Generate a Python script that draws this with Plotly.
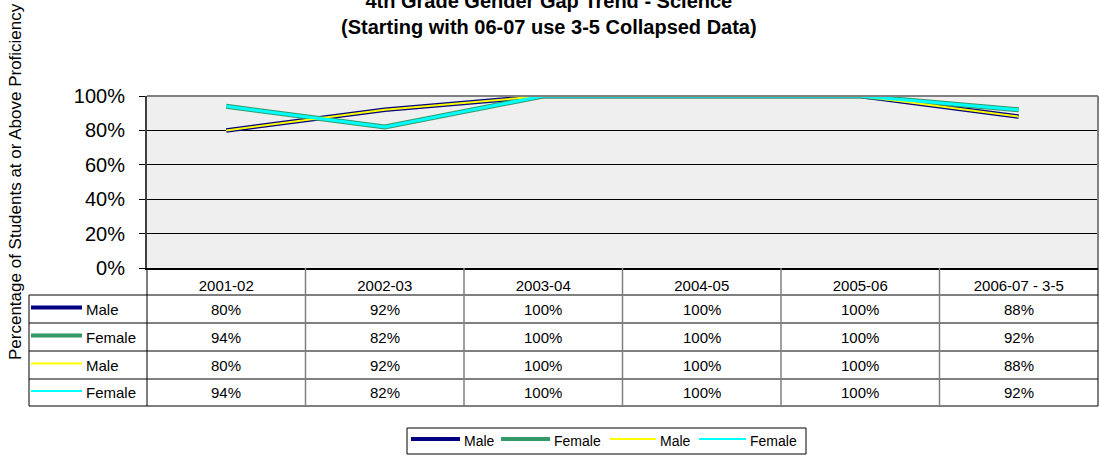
import plotly.graph_objects as go

# ── data ──────────────────────────────────────────────────────────────────────
years = ["2001-02", "2002-03", "2003-04", "2004-05", "2005-06", "2006-07 - 3-5"]
male = [80, 92, 100, 100, 100, 88]
female = [94, 82, 100, 100, 100, 92]
male_b = [80, 92, 100, 100, 100, 88]
female_b = [94, 82, 100, 100, 100, 92]

# series: (name, values, colour, width)
SERIES = [
    ("Male", male, "#000080", 4.5),
    ("Female", female, "#339966", 5),
    ("Male", male_b, "#ffff00", 2),
    ("Female", female_b, "#00ffff", 3),
]

W, H = 1099, 458
L, R, T, B = 147, 1, 96, 190
PW, PH = W - L - R, H - T - B
FONT = "Arial, Liberation Sans, sans-serif"


def px_x(px):
    return (px - L) / PW


def px_y(py):
    return (H - B - py) / PH


fig = go.Figure()

for name, vals, color, width in SERIES:
    fig.add_trace(go.Scatter(
        x=years, y=vals, mode="lines", name=name,
        line=dict(color=color, width=width),
        hoverinfo="skip", showlegend=False,
    ))

shapes = []
annotations = []

# plot-area border (top / right gray)
shapes.append(dict(type="line", xref="paper", yref="paper", x0=0, x1=1, y0=1, y1=1,
                   line=dict(color="#808080", width=2)))
shapes.append(dict(type="line", xref="paper", yref="paper", x0=1, x1=1, y0=0, y1=1,
                   line=dict(color="#808080", width=2)))

# ── data table below the axis ────────────────────────────────────────────────
row_lines = [295, 323, 351, 379, 406]
for py in row_lines:
    shapes.append(dict(type="line", xref="paper", yref="paper",
                       x0=px_x(29), x1=1, y0=px_y(py), y1=px_y(py),
                       line=dict(color="#000000", width=1)))
# column separators
for i in range(1, len(years)):
    shapes.append(dict(type="line", xref="x", yref="paper",
                       x0=i - 0.5, x1=i - 0.5, y0=0, y1=px_y(406),
                       line=dict(color="#808080", width=1.5)))
shapes.append(dict(type="line", xref="paper", yref="paper", x0=0, x1=0,
                   y0=0, y1=px_y(406), line=dict(color="#000000", width=1)))
shapes.append(dict(type="line", xref="paper", yref="paper", x0=1, x1=1,
                   y0=0, y1=px_y(406), line=dict(color="#000000", width=1)))
shapes.append(dict(type="line", xref="paper", yref="paper", x0=px_x(29), x1=px_x(29),
                   y0=px_y(295), y1=px_y(406), line=dict(color="#000000", width=1)))

for r, (name, vals, color, width) in enumerate(SERIES):
    yc = px_y((row_lines[r] + row_lines[r + 1]) / 2)
    kw = 4 if width > 3 else 2
    shapes.append(dict(type="line", xref="paper", yref="paper",
                       x0=px_x(31), x1=px_x(82), y0=yc + 1.5 / PH, y1=yc + 1.5 / PH,
                       line=dict(color=color, width=kw)))
    annotations.append(dict(x=px_x(84), y=yc, xref="paper", yref="paper",
                            text=name, showarrow=False, xanchor="left", yanchor="middle",
                            font=dict(family=FONT, size=15, color="#000000")))
    for yr, v in zip(years, vals):
        annotations.append(dict(x=yr, y=yc, xref="x", yref="paper",
                                text=f"{v}%", showarrow=False,
                                xanchor="center", yanchor="middle",
                                font=dict(family=FONT, size=15, color="#000000")))

# ── legend box at the bottom (Excel style: long key, text right after) ──────
shapes.append(dict(type="rect", xref="paper", yref="paper",
                   x0=px_x(407), x1=px_x(806), y0=px_y(428), y1=px_y(454),
                   line=dict(color="#000000", width=1), fillcolor="#ffffff"))
key_x = [411, 501, 610, 699]
key_len = [49, 49, 46, 47]
for (name, _, color, width), kx, kl in zip(SERIES, key_x, key_len):
    kw = 4 if width > 3 else 2
    shapes.append(dict(type="line", xref="paper", yref="paper",
                       x0=px_x(kx), x1=px_x(kx + kl), y0=px_y(439), y1=px_y(439),
                       line=dict(color=color, width=kw)))
    annotations.append(dict(x=px_x(kx + kl + 2), y=px_y(441), xref="paper", yref="paper",
                            text=name, showarrow=False, xanchor="left", yanchor="middle",
                            font=dict(family=FONT, size=14, color="#000000")))

# title
annotations.append(dict(
    x=px_x(549), y=px_y(14), xref="paper", yref="paper",
    text="<b>4th Grade Gender Gap Trend - Science<br>(Starting with 06-07 use 3-5 Collapsed Data)</b>",
    showarrow=False, xanchor="center", yanchor="middle",
    font=dict(family=FONT, size=20, color="#000000"),
))
# y-axis title
annotations.append(dict(
    x=px_x(15), y=0.5, xref="paper", yref="paper",
    text="Percentage of Students at or Above Proficiency",
    showarrow=False, textangle=-90, xanchor="center", yanchor="middle",
    font=dict(family=FONT, size=17, color="#000000"),
))

fig.update_layout(
    width=W, height=H,
    paper_bgcolor="#ffffff",
    plot_bgcolor="#efefef",
    margin=dict(l=L, r=R, t=T, b=B),
    shapes=shapes,
    annotations=annotations,
    showlegend=False,
    xaxis=dict(
        type="category", range=[-0.5, len(years) - 0.5],
        showgrid=False, showline=True, linecolor="#000000", linewidth=2,
        ticks="", tickfont=dict(family=FONT, size=15, color="#000000"),
        ticklabelstandoff=3,
        fixedrange=True,
    ),
    yaxis=dict(
        range=[0, 100], dtick=20, ticksuffix="%",
        showgrid=True, gridcolor="#000000", gridwidth=1,
        showline=True, linecolor="#404040", linewidth=2,
        ticks="outside", ticklen=6, tickcolor="#000000",
        tickfont=dict(family=FONT, size=20, color="#000000"),
        ticklabelstandoff=10,
        zeroline=False, fixedrange=True,
    ),
)

fig.write_html("out.html", config={"displayModeBar": False},
               post_script="document.body.style.margin='0px';")
